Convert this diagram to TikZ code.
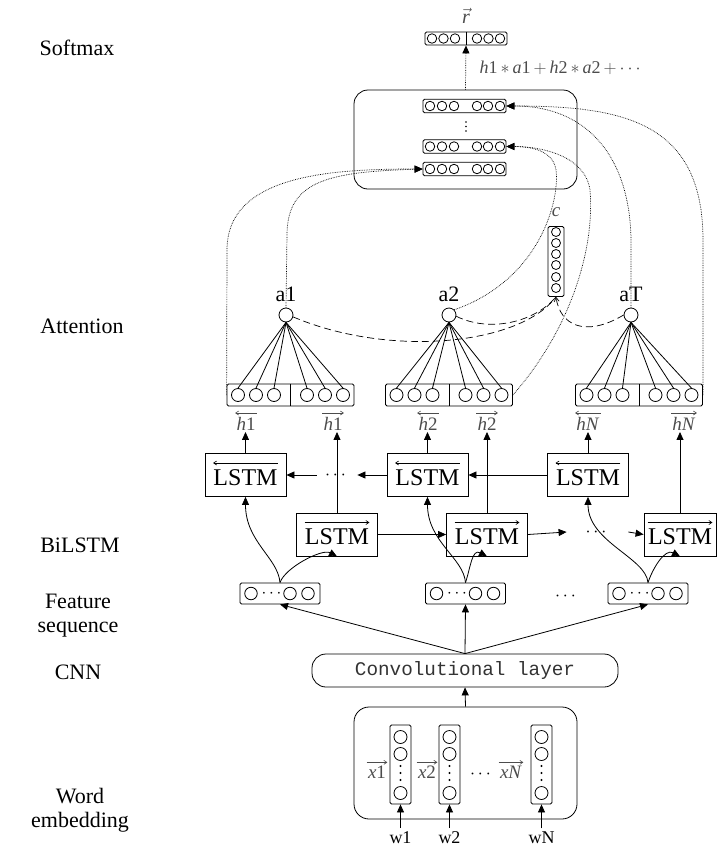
\RequirePackage{fix-cm}
\documentclass[tikz,border=0pt]{standalone}
\usepackage{amsmath}
\usepackage{fontspec}
\setmainfont{Liberation Serif}
\setmonofont{Liberation Mono}
\usepackage{tikz}
\usetikzlibrary{positioning}
\usetikzlibrary{arrows.meta}
\definecolor{textgray}{gray}{0.3}
\tikzset{
  >={Triangle[length=8pt,width=7pt]},
  layer name/.style={font=\fontsize{22}{24}\selectfont, align=center},
  lstm cell/.style={draw, minimum width=81, minimum height=43, inner sep=0pt,
    text height=20pt, text depth=0pt, font=\fontsize{24}{24}\selectfont},
  vecbox/.style={draw, rounded corners=1.5pt, inner sep=0pt},
  neuron/.style={draw, circle, minimum size=13, inner sep=0pt},
  small neuron/.style={draw, circle, minimum size=9.5, inner sep=0pt},
  anode/.style={draw, circle, minimum size=14, inner sep=0pt},
  hlabel/.style={font=\fontsize{19}{20}\selectfont, text=textgray, inner sep=1pt},
  over arrow/.style={line width=0.6pt, -{Straight Barb[length=3pt,width=4pt]}},
  dots/.style={inner sep=0pt, font=\fontsize{18}{18}\selectfont},
  ctx link/.style={densely dotted, line width=0.7pt},
  att link/.style={dash pattern=on 7pt off 4pt, line width=0.7pt},
}

\begin{document}
\begin{tikzpicture}[x=1pt, y=-1pt, line width=0.8pt]
  \useasboundingbox (0,0) rectangle (718,847);

  % Layer names
  \node[layer name] (l_soft) at (77,48) {Softmax};
  \node[layer name] (l_att) at (82,326) {Attention};
  \node[layer name] (l_bilstm) at (80,545) {BiLSTM};
  \node[layer name] (l_feat) at (78,616) {Feature\\sequence};
  \node[layer name] (l_cnn) at (78,672) {CNN};
  \node[layer name] (l_emb) at (80,810) {Word\\embedding};

  % Softmax output
  \node[vecbox, minimum width=82, minimum height=13] (r_vec) at (466,38.5) {};
  \foreach \j/\dx in {1/-34,2/-22.5,3/-11,4/11,5/22.5,6/34}
    \node[small neuron] (r_\j) at ([xshift=\dx]r_vec.center) {};
  \draw (r_vec.north) -- (r_vec.south);
  \node[font=\fontsize{20}{20}\selectfont, text=textgray] (r_lab) at (466,16) {$\vec{\textit{r}}$};

  % Context vectors
  \node[draw, rounded corners=14, minimum width=223, minimum height=99] (ctx) at (465.5,139.5) {};
  \foreach \k/\y in {1/106, 2/146.5, 3/169} {
    \node[vecbox, minimum width=83, minimum height=13.5] (ctx_\k) at (464.5,\y) {};
    \foreach \j/\dx in {1/-34.5,2/-22.5,3/-10.5,4/12.5,5/23.5,6/35.5}
      \node[small neuron] (ctx_\k_\j) at ([xshift=\dx]ctx_\k.center) {};
  }
  \foreach \d in {122,126.5,131}
    \fill (466,\d) circle (0.8);
  \node[font=\fontsize{18}{18}\selectfont, text=textgray, anchor=west] (sum_lab) at (476,68)
    {\textit{h}1\,$*$\,\textit{a}1\,$+$\,\textit{h}2\,$*$\,\textit{a}2\,$+\cdots$};
  \draw[ctx link, ->] (ctx.north) -- (r_vec.south);

  % Attention
  \foreach \k/\cx/\ax/\lab in {1/290.5/286/a1, 2/449/449/a2, 3/639/631/aT} {
    \node[vecbox, minimum width=127, minimum height=22] (h_vec\k) at (\cx,395) {};
    \draw (h_vec\k.north) -- (h_vec\k.south);
    \node[anode] (att\k) at (\ax,315) {};
    \node[font=\fontsize{22}{22}\selectfont, above=2pt of att\k] (att\k_lab) {\lab};
    \foreach \j/\dx in {1/-52.5,2/-34.5,3/-16.5,4/16.5,5/34.5,6/52.5} {
      \node[neuron] (h_vec\k_\j) at ([xshift=\dx]h_vec\k.center) {};
      \draw (att\k.south) -- (h_vec\k_\j.north);
    }
  }

  \node[vecbox, minimum width=16, minimum height=70] (c_vec) at (556,261.5) {};
  \foreach \j/\y in {1/232,2/243,3/254,4/265,5/277,6/288}
    \node[draw, circle, minimum size=9, inner sep=0] (c_\j) at (556,\y) {};
  \node[hlabel, above=8pt of c_vec] (c_lab) {\textit{c}};

  \draw[att link] (att1.-15) .. controls (390,358) and (520,345) .. (c_vec.south);
  \draw[att link] (att2.-10) .. controls (490,333) and (535,322) .. (c_vec.south);
  \draw[att link, -{Straight Barb[length=4pt,width=5pt]}] (att3.west) .. controls (585,338) and (560,325) .. (c_vec.south);

  % Links to the context vectors
  \draw[ctx link, ->] (h_vec1.west) -- (227,250) .. controls (227,175) and (330,169) .. (ctx_3.west);
  \draw[ctx link, ->] (att1.north) -- (287,235) .. controls (287,180) and (330,172) .. (ctx_3.west);
  \draw[ctx link, ->] (att2.north east) .. controls (540,280) and (560,200) .. (556,170)
    .. controls (553,150) and (530,146.5) .. (ctx_2.east);
  \draw[ctx link, ->] (h_vec2.east) .. controls (570,330) and (595,250) .. (590,190)
    .. controls (585,155) and (540,146.5) .. (ctx_2.east);
  \draw[ctx link, ->] (att3.north) -- (631,240) .. controls (630,160) and (590,106) .. (ctx_1.east);
  \draw[ctx link, ->] (h_vec3.east) -- (703,240) .. controls (703,120) and (620,106) .. (ctx_1.east);

  % BiLSTM
  \node[lstm cell] (bwd1) at (245.5,475) {LSTM};
  \node[lstm cell] (bwd2) at (427.5,475) {LSTM};
  \node[lstm cell] (bwd3) at (588,475) {LSTM};
  \node[lstm cell] (fwd1) at (337,534.5) {LSTM};
  \node[lstm cell] (fwd2) at (487,534.5) {LSTM};
  \node[lstm cell, minimum width=72] (fwd3) at (680,534.5) {LSTM};

  \draw[over arrow] ([xshift=-8.5,yshift=12]bwd1.east) -- ([xshift=8.5,yshift=12]bwd1.west);
  \draw[over arrow] ([xshift=-8.5,yshift=12]bwd2.east) -- ([xshift=8.5,yshift=12]bwd2.west);
  \draw[over arrow] ([xshift=-8.5,yshift=12]bwd3.east) -- ([xshift=8.5,yshift=12]bwd3.west);
  \draw[over arrow] ([xshift=8.5,yshift=12]fwd1.west) -- ([xshift=-8.5,yshift=12]fwd1.east);
  \draw[over arrow] ([xshift=8.5,yshift=12]fwd2.west) -- ([xshift=-8.5,yshift=12]fwd2.east);
  \draw[over arrow] ([xshift=4,yshift=12]fwd3.west) -- ([xshift=-4,yshift=12]fwd3.east);

  \node[hlabel] (hb1) at (246,424) {\textit{h}1};
  \node[hlabel] (hf1) at (333,424) {\textit{h}1};
  \node[hlabel] (hb2) at (428,424) {\textit{h}2};
  \node[hlabel] (hf2) at (487,424) {\textit{h}2};
  \node[hlabel] (hbN) at (588,424) {\textit{hN}};
  \node[hlabel] (hfN) at (684,424) {\textit{hN}};
  \foreach \n in {hb1,hb2,hbN}
    \draw[over arrow, textgray] ([yshift=3]\n.north east) -- ([yshift=3]\n.north west);
  \foreach \n in {hf1,hf2,hfN}
    \draw[over arrow, textgray] ([yshift=3]\n.north west) -- ([yshift=3]\n.north east);

  \draw[->] (bwd1.north) -- (bwd1.north |- hb1.south);
  \draw[->] (bwd2.north) -- (bwd2.north |- hb2.south);
  \draw[->] (bwd3.north) -- (bwd3.north |- hbN.south);
  \draw[->] (fwd1.north) -- (fwd1.north |- hf1.south);
  \draw[->] (fwd2.north) -- (fwd2.north |- hf2.south);
  \draw[->] (fwd3.north) -- (fwd3.north |- hfN.south);

  \node[dots, minimum width=40] (bdots) at (337,475) {$\cdots$};
  \draw[->] (bwd3.west) -- (bwd2.east);
  \draw[->] (bwd2.west) -- (bdots.east);
  \draw[->] (bdots.west) -- (bwd1.east);
  \node[dots, minimum width=61] (fdots) at (597.5,532) {$\cdots$};
  \draw[->] (fwd1.east) -- (fwd2.west);
  \draw[->] (fwd2.east) -- (fdots.west);
  \draw[->] (fdots.east) -- (fwd3.west);

  % Feature sequence
  \node[vecbox, minimum width=80, minimum height=21] (feat1) at (280,593.5) {};
  \node[vecbox, minimum width=80, minimum height=21] (feat2) at (465.5,593.5) {};
  \node[vecbox, minimum width=80, minimum height=21] (feat3) at (648,593.5) {};
  \foreach \k in {1,2,3} {
    \node[neuron, minimum size=12.5] (feat\k_a) at ([xshift=-29]feat\k.center) {};
    \node[dots, font=\fontsize{17}{17}\selectfont] (feat\k_dots) at ([xshift=-7]feat\k.center) {$\cdots$};
    \node[neuron, minimum size=12.5] (feat\k_b) at ([xshift=10]feat\k.center) {};
    \node[neuron, minimum size=12.5] (feat\k_c) at ([xshift=28]feat\k.center) {};
    \draw[->] (feat\k.north) .. controls +(-2,-25) and +(0,45) .. (bwd\k.south);
    \draw[->] (feat\k.north) .. controls +(5,-15) and +(-15,-8) .. (fwd\k.south);
  }
  \node[dots] (fs_dots) at (567,596) {$\cdots$};

  % CNN
  \node[draw, rounded corners=14, minimum width=306, minimum height=33,
    font=\fontsize{19.3}{20}\selectfont\ttfamily, text=black!80] (conv) at (465,670.5) {Convolutional layer};
  \draw[->] (conv.north) -- (feat1.south);
  \draw[->] (conv.north) -- (feat2.south);
  \draw[->] (conv.north) -- (feat3.south);

  % Word embedding
  \node[draw, rounded corners=15, minimum width=223, minimum height=112] (emb) at (465.5,763) {};
  \draw[->] (emb.north) -- (conv.south);
  \foreach \k/\x in {1/400.5, 2/449.5, N/541.5} {
    \node[vecbox, minimum width=21, minimum height=79] (x_vec\k) at (\x,764.5) {};
    \node[neuron] (x_vec\k_a) at (\x,737) {};
    \node[neuron] (x_vec\k_b) at (\x,754) {};
    \foreach \d in {766,773,780}
      \fill (\x,\d) circle (1.1);
    \node[neuron] (x_vec\k_c) at (\x,793) {};
    \node[font=\fontsize{18}{18}\selectfont] (w\k) at (\x,838) {w\k};
    \draw[->] (w\k.north) -- (x_vec\k.south);
  }
  \node[hlabel] (x1_lab) at (377,772) {\textit{x}1};
  \node[hlabel] (x2_lab) at (427,772) {\textit{x}2};
  \node[hlabel] (xN_lab) at (511,772) {\textit{xN}};
  \foreach \n in {x1_lab,x2_lab,xN_lab}
    \draw[over arrow, textgray] ([yshift=2]\n.north west) -- ([yshift=2]\n.north east);
  \node[dots] (x_dots) at (482,774) {$\cdots$};

\end{tikzpicture}
\end{document}
